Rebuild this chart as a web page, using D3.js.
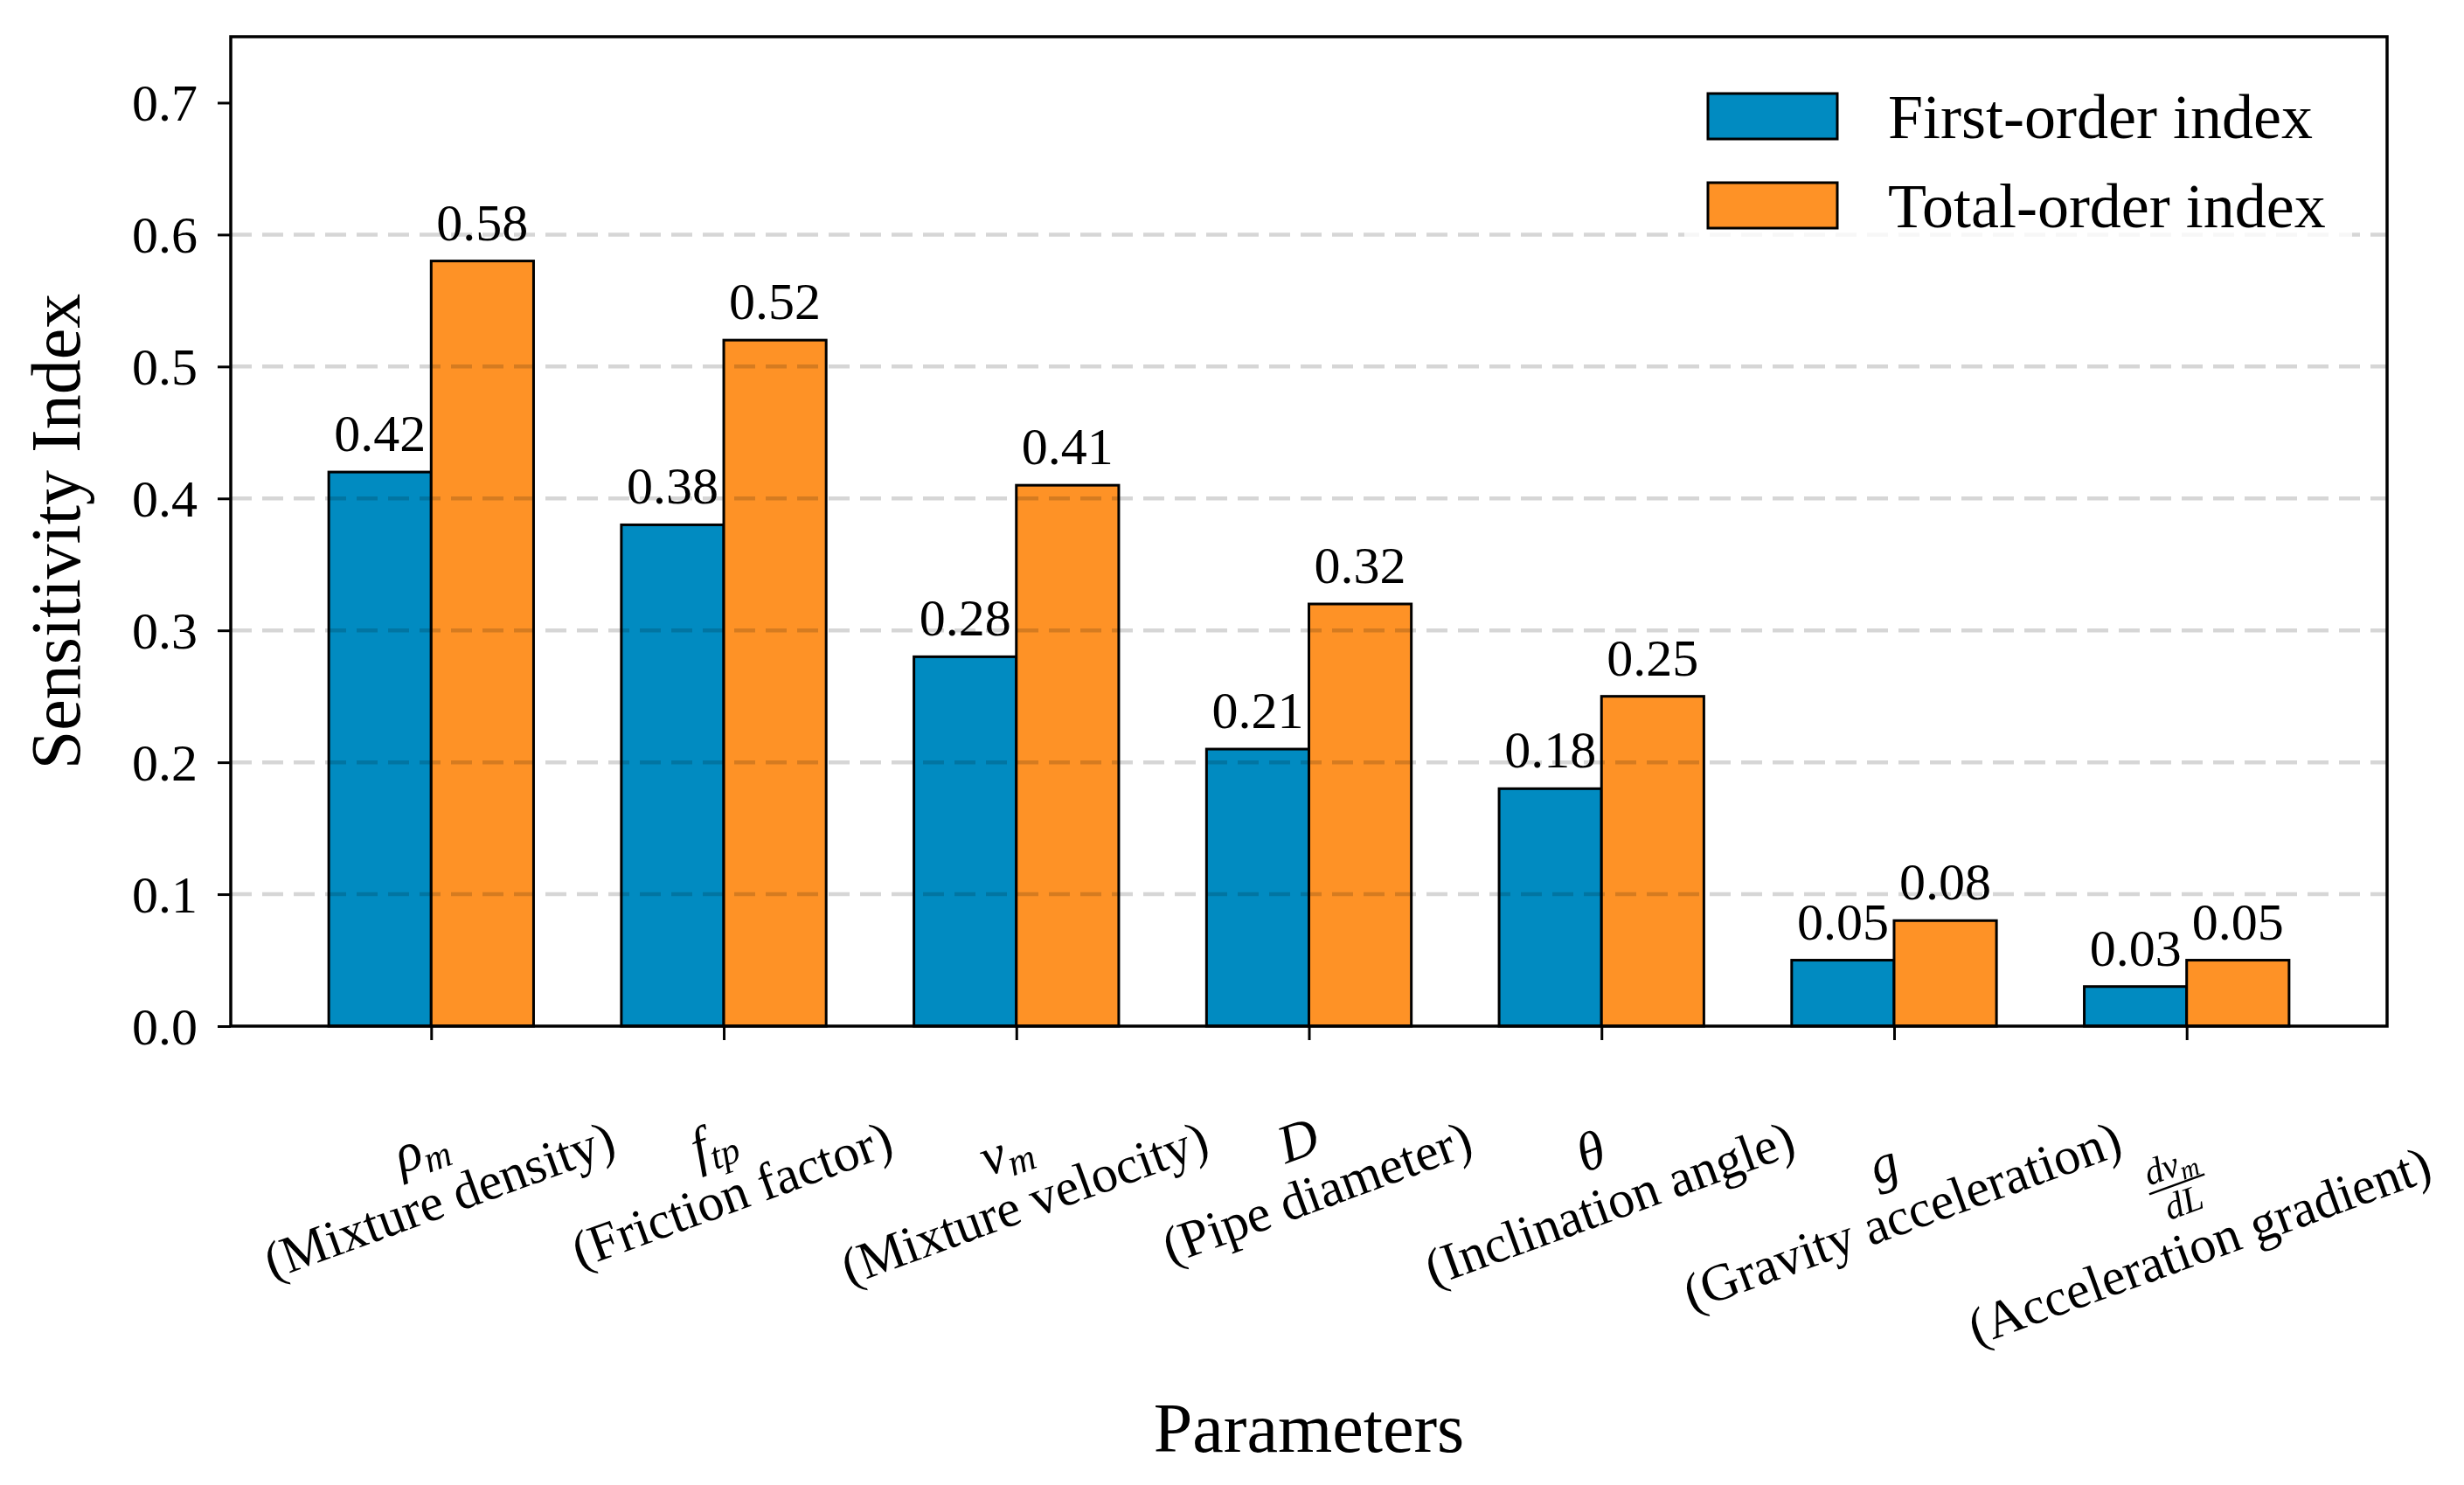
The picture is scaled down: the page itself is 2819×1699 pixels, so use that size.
<!DOCTYPE html>
<html>
<head>
<meta charset="utf-8">
<script src="https://cdn.jsdelivr.net/npm/d3@7"></script>
<style>
  body { margin: 0; background: #fff; }
  svg text { font-family: "Liberation Serif", "Times New Roman", serif; fill: #000; }
</style>
</head>
<body>
<svg id="chart" width="2819" height="1699"></svg>
<script>
// data
var paramSymbols = ["ρ", "f", "v", "D", "θ", "g", "dv/dL"];
var paramSubs = ["m", "tp", "m", "", "", "", "m"];
var paramNames = ["(Mixture density)", "(Friction factor)", "(Mixture velocity)", "(Pipe diameter)",
                  "(Inclination angle)", "(Gravity acceleration)", "(Acceleration gradient)"];
var firstOrder = [0.42, 0.38, 0.28, 0.21, 0.18, 0.05, 0.03];
var totalOrder = [0.58, 0.52, 0.41, 0.32, 0.25, 0.08, 0.05];
var seriesNames = ["First-order index", "Total-order index"];
var seriesColors = ["#018BC1", "#FE9226"];
var yTicks = [0.0, 0.1, 0.2, 0.3, 0.4, 0.5, 0.6, 0.7];
var gridTicks = [0.1, 0.2, 0.3, 0.4, 0.5, 0.6];

var svg = d3.select("#chart");
var barW = 0.35;

// plot box (window.top is read only, so no plain "top" here)
var plotL = 264, plotR = 2731, plotT = 42, plotB = 1174;
var x = d3.scaleLinear().domain([-0.685, 6.685]).range([plotL, plotR]);
var y = d3.scaleLinear().domain([0, 0.75]).range([plotB, plotT]);

// bars
var series = [firstOrder, totalOrder];
series.forEach(function(vals, s){
	svg.append("g").selectAll("rect")
		.data(vals)
		.enter().append("rect")
			.attr("x", function(d, i){ return s == 0 ? x(i - barW) : x(i); })
			.attr("y", function(d){ return y(d); })
			.attr("width", x(barW) - x(0))
			.attr("height", function(d){ return y(0) - y(d); })
			.attr("fill", seriesColors[s])
			.attr("stroke", "#000")
			.attr("stroke-width", 3);
});

// dashed grid, drawn on top so it shows faintly over the bars
svg.append("g").style("mix-blend-mode", "multiply")
	.selectAll("line")
	.data(gridTicks)
	.enter().append("line")
		.attr("x1", plotL).attr("x2", plotR)
		.attr("y1", function(d){ return y(d); })
		.attr("y2", function(d){ return y(d); })
		.attr("stroke", "#d6d6d6")
		.attr("stroke-width", 4.5)
		.attr("stroke-dasharray", "24,12");

// value labels
series.forEach(function(vals, s){
	svg.append("g").selectAll("text")
		.data(vals)
		.enter().append("text")
			.attr("x", function(d, i){ return x(s == 0 ? i - barW / 2 : i + barW / 2); })
			.attr("y", function(d){ return y(d) - 24; })
			.attr("text-anchor", "middle")
			.attr("font-size", 60)
			.text(function(d){ return d3.format(".2f")(d); });
});

// frame
svg.append("rect")
	.attr("x", plotL).attr("y", plotT)
	.attr("width", plotR - plotL).attr("height", plotB - plotT)
	.attr("fill", "none").attr("stroke", "#000").attr("stroke-width", 3.5);

// y axis
var yAxis = svg.append("g")
	.attr("transform", "translate(" + plotL + ",0)")
	.call(d3.axisLeft(y).tickValues(yTicks).tickFormat(d3.format(".1f")).tickSize(15).tickPadding(23));
yAxis.select(".domain").remove();
yAxis.selectAll(".tick line").attr("stroke", "#000").attr("stroke-width", 3);
yAxis.selectAll(".tick text").attr("font-size", 60).attr("font-family", null).attr("dy", "0.34em");

// x axis ticks only, labels are built by hand below
var xAxis = svg.append("g")
	.attr("transform", "translate(0," + plotB + ")")
	.call(d3.axisBottom(x).tickValues(d3.range(paramNames.length)).tickFormat("").tickSize(16));
xAxis.select(".domain").remove();
xAxis.selectAll(".tick line").attr("stroke", "#000").attr("stroke-width", 3);

// rotated two-line tick labels (symbol over name), matplotlib style: rotated bbox centred on tick
var labelTop = plotB + 45;
var rad = 20 * Math.PI / 180;
paramNames.forEach(function(name, i){
	var g = svg.append("g");
	var inner = g.append("g");
	var t2 = inner.append("text").attr("text-anchor", "middle").attr("font-size", 60).text(name);
	var w2 = t2.node().getComputedTextLength();
	var sym = paramSymbols[i], sub = paramSubs[i];
	var w1, blockTop;
	if(sym.indexOf("/") < 0){
		var t1 = inner.append("text")
			.attr("text-anchor", "middle").attr("y", -63)
			.attr("font-style", "italic").attr("font-size", 62);
		t1.append("tspan").text(sym);
		if(sub) t1.append("tspan").attr("font-size", 43).attr("dy", 10).text(sub);
		w1 = t1.node().getComputedTextLength();
		blockTop = -107;
	}else{
		//fraction d v_m / d L
		var parts = sym.split("/");
		var barY = -95;
		var num = inner.append("text")
			.attr("text-anchor", "middle").attr("y", barY - 9)
			.attr("font-style", "italic").attr("font-size", 42);
		num.append("tspan").text(parts[0]);
		num.append("tspan").attr("font-size", 30).attr("dy", 7).text(sub);
		var den = inner.append("text")
			.attr("text-anchor", "middle").attr("y", barY + 36)
			.attr("font-style", "italic").attr("font-size", 42)
			.text(parts[1]);
		var fw = Math.max(num.node().getComputedTextLength(), den.node().getComputedTextLength()) + 6;
		inner.append("line")
			.attr("x1", -fw / 2).attr("x2", fw / 2)
			.attr("y1", barY).attr("y2", barY)
			.attr("stroke", "#000").attr("stroke-width", 2.5);
		w1 = fw;
		blockTop = barY - 43;
	}
	var blockBottom = 13;
	var bw = Math.max(w1, w2), bh = blockBottom - blockTop;
	var yc = (blockTop + blockBottom) / 2;
	inner.attr("transform", "translate(0," + (-yc) + ")");
	var rotH = bw * Math.sin(rad) + bh * Math.cos(rad);
	g.attr("transform", "translate(" + x(i) + "," + (labelTop + rotH / 2) + ") rotate(-20)");
});

// axis titles
svg.append("text")
	.attr("transform", "translate(91," + ((plotT + plotB) / 2) + ") rotate(-90)")
	.attr("text-anchor", "middle")
	.attr("font-size", 80)
	.text("Sensitivity Index");

svg.append("text")
	.attr("x", (plotL + plotR) / 2).attr("y", 1661)
	.attr("text-anchor", "middle")
	.attr("font-size", 80)
	.text("Parameters");

// legend
var legend = svg.append("g");
legend.append("rect")
	.attr("x", 1927).attr("y", 86).attr("width", 764).attr("height", 200).attr("rx", 10)
	.attr("fill", "#fff").attr("fill-opacity", 0.8);
seriesNames.forEach(function(n, s){
	var ly = 107 + s * 102;
	legend.append("rect")
		.attr("x", 1954).attr("y", ly).attr("width", 148).attr("height", 52)
		.attr("fill", seriesColors[s]).attr("stroke", "#000").attr("stroke-width", 3);
	legend.append("text")
		.attr("x", 2160).attr("y", ly + 51)
		.attr("font-size", 72)
		.text(n);
});
</script>
</body>
</html>
